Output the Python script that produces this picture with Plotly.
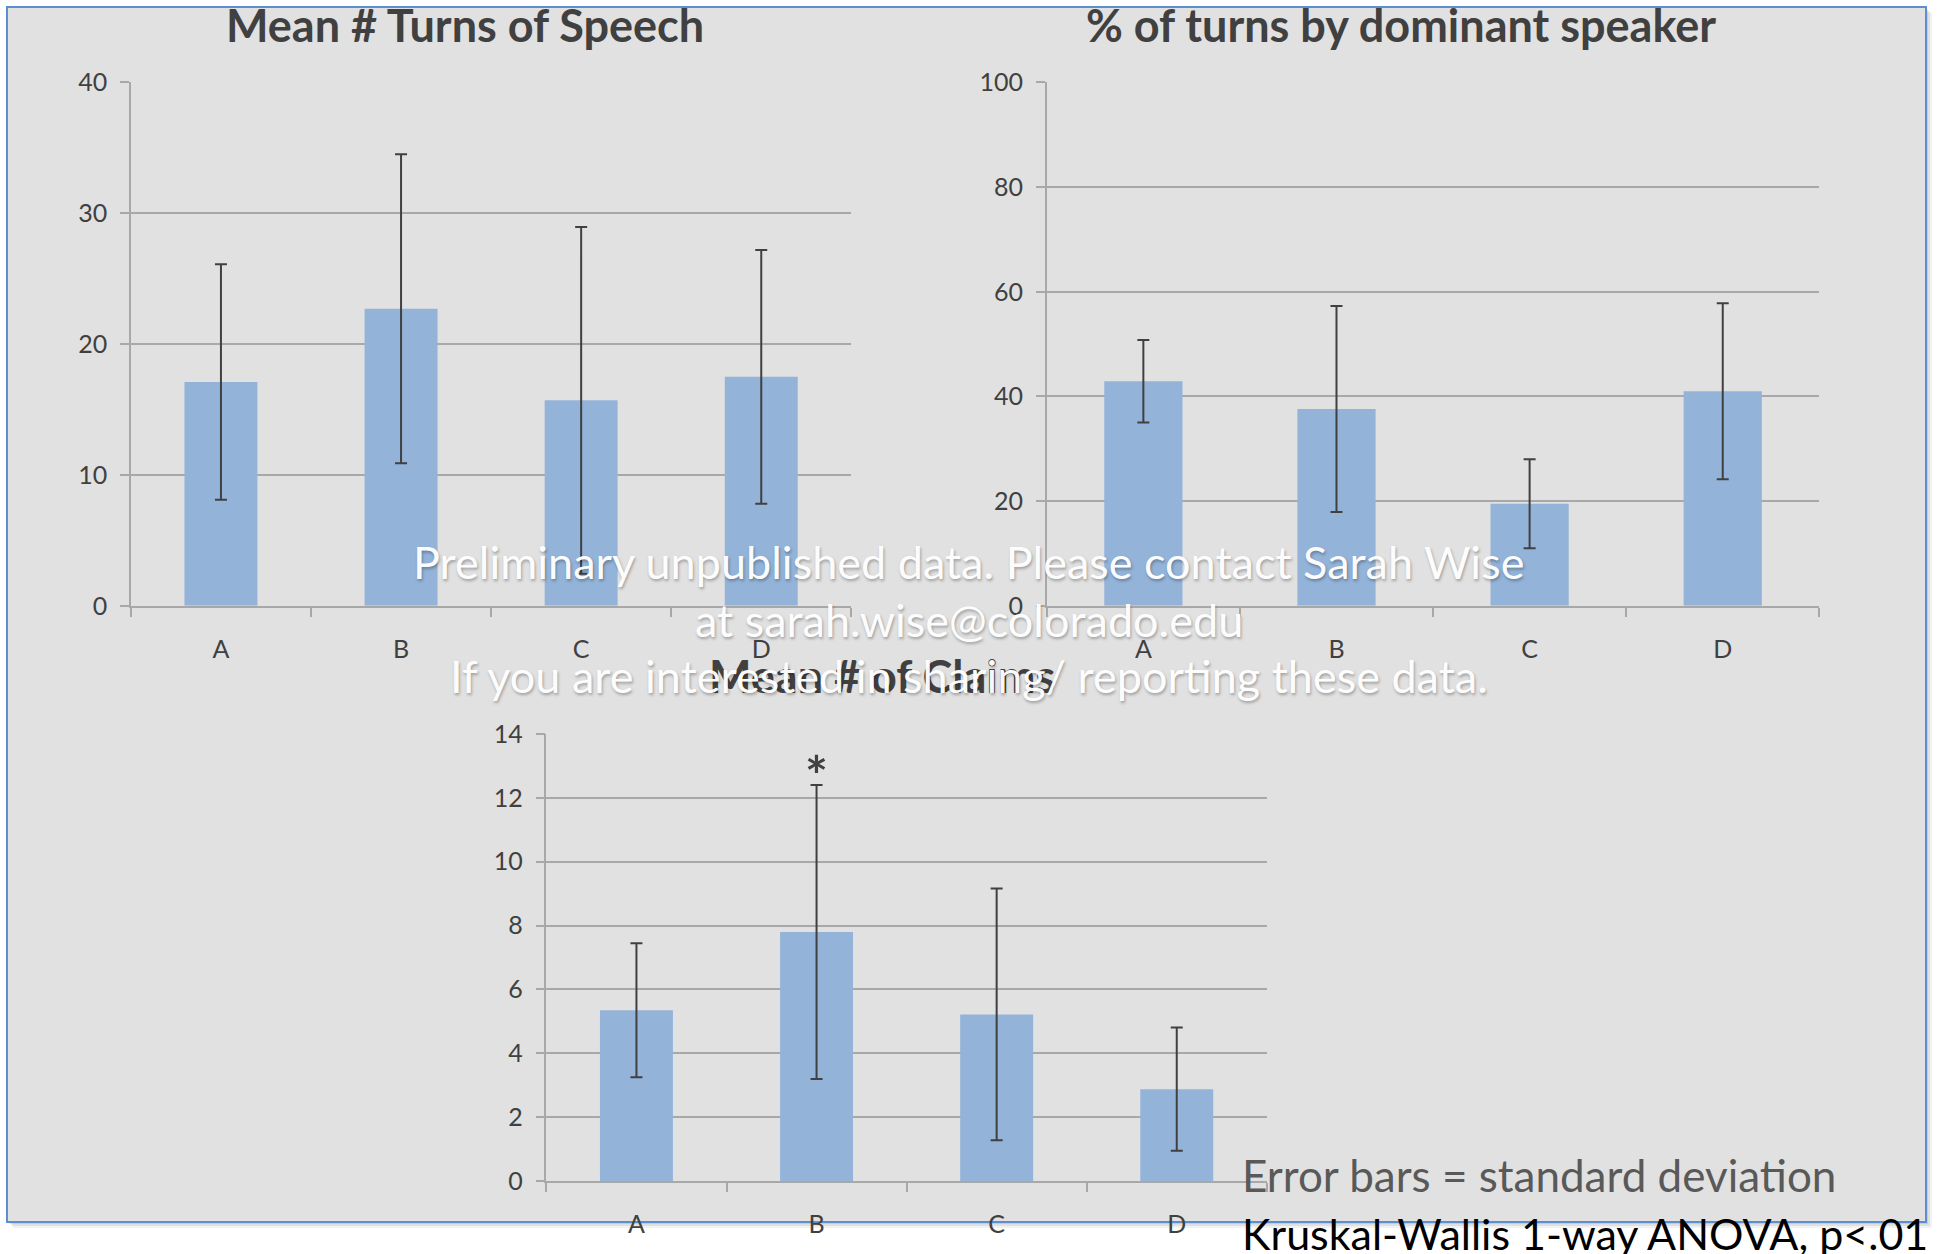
import plotly.graph_objects as go

# ---------------- data ----------------
categories = ["A", "B", "C", "D"]

turns_mean = [17.1, 22.7, 15.7, 17.5]
turns_sd = [9.0, 11.8, 13.25, 9.7]

dominant_pct = [42.9, 37.6, 19.5, 41.0]
dominant_sd = [7.9, 19.7, 8.5, 16.8]

claims_mean = [5.35, 7.8, 5.22, 2.88]
claims_sd = [2.1, 4.6, 3.94, 1.93]

yticks_turns = [0, 10, 20, 30, 40]
yticks_dominant = [0, 20, 40, 60, 80, 100]
yticks_claims = [0, 2, 4, 6, 8, 10, 12, 14]

title_turns = "Mean # Turns of Speech"
title_dominant = "% of turns by dominant speaker"
title_claims = "Mean # of Claims"
watermark_lines = [
    "Preliminary unpublished data. Please contact Sarah Wise",
    "at sarah.wise@colorado.edu",
    "If you are interested in sharing/ reporting these data.",
]
note_sd = "Error bars = standard deviation"
note_test = "Kruskal-Wallis 1-way ANOVA, p<.01"
significant_category = "B"

# ---------------- style ----------------
W, H = 1937, 1254
FONT = "Lato"
BAR_COLOR = "#93b3d9"
ERR_COLOR = "#404040"
GRID = "#a8a8a8"
TEXT = "#404040"


def px(x):
    return x / W


def py(y):
    return 1 - y / H


fig = go.Figure()

panels = [
    ("x", "y", turns_mean, turns_sd),
    ("x2", "y2", dominant_pct, dominant_sd),
    ("x3", "y3", claims_mean, claims_sd),
]
for xa, ya, vals, sds in panels:
    fig.add_trace(go.Bar(
        x=categories, y=vals, xaxis=xa, yaxis=ya,
        marker=dict(color=BAR_COLOR, line=dict(width=0)),
        error_y=dict(type="data", array=sds, visible=True,
                     color=ERR_COLOR, thickness=2, width=6),
        showlegend=False, hoverinfo="skip",
    ))

common_x = dict(
    type="category", range=[-0.5, 3.5], showline=True, linecolor=GRID,
    linewidth=1.5, ticks="outside", tickson="boundaries", ticklen=9,
    tickcolor=GRID, tickwidth=1.5, showgrid=False, zeroline=False,
    tickfont=dict(family=FONT, size=25, color=TEXT), ticklabelstandoff=20,
    fixedrange=True,
)
common_y = dict(
    showline=True, linecolor=GRID, linewidth=1.5, ticks="outside", ticklen=9,
    tickcolor=GRID, tickwidth=1.5, showgrid=True, gridcolor=GRID,
    gridwidth=1.5, zeroline=False,
    tickfont=dict(family=FONT, size=25, color=TEXT), ticklabelstandoff=8,
    fixedrange=True,
)

top_dom_y = [py(605.8), py(82.4)]
fig.update_layout(
    width=W, height=H, margin=dict(l=0, r=0, t=0, b=0, autoexpand=False),
    paper_bgcolor="white", plot_bgcolor="rgba(0,0,0,0)",
    bargap=0.595, showlegend=False,
    xaxis=dict(common_x, domain=[px(130.9), px(851.3)], anchor="y"),
    yaxis=dict(common_y, domain=top_dom_y, range=[0, 40],
               tickvals=yticks_turns, anchor="x"),
    xaxis2=dict(common_x, domain=[px(1046.8), px(1819.3)], anchor="y2"),
    yaxis2=dict(common_y, domain=top_dom_y, range=[0, 100],
                tickvals=yticks_dominant, anchor="x2"),
    xaxis3=dict(common_x, domain=[px(546.4), px(1266.8)], anchor="y3"),
    yaxis3=dict(common_y, domain=[py(1181.1), py(734.0)], range=[0, 14],
                tickvals=yticks_claims, anchor="x3"),
)

# frame with shadow
shapes = []
for off, op in [(6, 0.05), (4, 0.07), (2, 0.09)]:
    shapes.append(dict(type="rect", xref="paper", yref="paper", layer="below",
                       x0=px(7 + off), x1=px(1926 + off), y0=py(1222 + off), y1=py(7 + off),
                       fillcolor=f"rgba(0,0,0,{op})", line=dict(width=0)))
shapes.append(dict(type="rect", xref="paper", yref="paper", layer="below",
                   x0=px(7), x1=px(1926), y0=py(1222), y1=py(7),
                   fillcolor="#e1e1e1", line=dict(color="#5b8fcf", width=2)))
fig.update_layout(shapes=shapes)

ann = []
for txt, cx, cy in [(title_turns, 465, 25), (title_dominant, 1401, 25), (title_claims, 882, 676)]:
    ann.append(dict(text=f"<b>{txt}</b>", x=px(cx), y=py(cy), xref="paper", yref="paper",
                    xanchor="center", yanchor="middle", showarrow=False,
                    font=dict(family=FONT, size=45, color=TEXT)))

# significance marker
ann.append(dict(text="<b>*</b>", x=significant_category, y=12.9, xref="x3", yref="y3",
                xanchor="center", yanchor="middle", showarrow=False, yshift=-5,
                font=dict(family=FONT, size=54, color=TEXT)))

for i, line in enumerate(watermark_lines):
    ann.append(dict(text=line, x=px(968.5), y=py([562, 620, 676][i]), xref="paper", yref="paper",
                    xanchor="center", yanchor="middle", showarrow=False,
                    font=dict(family=FONT, size=45, color="rgba(255,255,255,0.97)",
                              shadow="1px 2px 3px rgba(0,0,0,0.3)")))

ann.append(dict(text=note_sd, x=px(1240), y=py(1175), xref="paper", yref="paper",
                xanchor="left", yanchor="middle", showarrow=False,
                font=dict(family=FONT, size=44, color="#595959")))
ann.append(dict(text=note_test, x=px(1240), y=py(1233), xref="paper", yref="paper",
                xanchor="left", yanchor="middle", showarrow=False,
                font=dict(family=FONT, size=43, color="black")))

fig.update_layout(annotations=ann)

fig.write_html(
    "out.html",
    config={"displayModeBar": False},
    post_script=(
        "document.documentElement.style.margin='0';"
        "document.body.style.margin='0';document.body.style.padding='0';"
        "document.body.style.overflow='hidden';"
        "var d=document.querySelector('.plotly-graph-div');"
        "d.style.position='absolute';d.style.left='0px';d.style.top='0px';"
    ),
)
